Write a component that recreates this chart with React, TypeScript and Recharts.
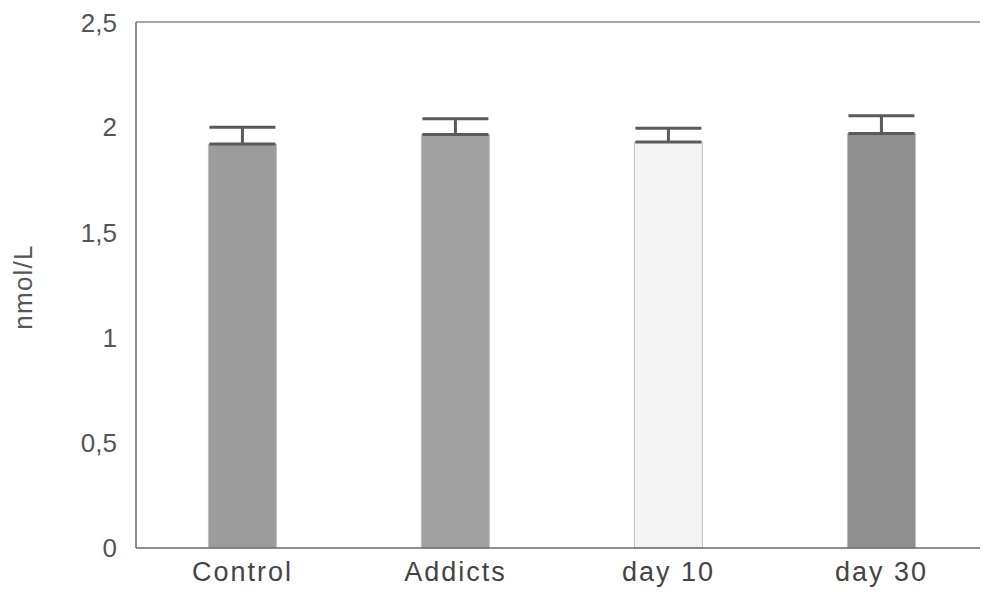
import { Bar, BarChart, Cell, ErrorBar, ReferenceLine, XAxis, YAxis } from "recharts";

const groups = ["Control", "Addicts", "day 10", "day 30"];
const means = [1.92, 1.965, 1.93, 1.97];
const sd = [0.08, 0.075, 0.065, 0.085];
const fills = ["#9c9c9c", "#a2a2a2", "#f3f3f3", "#8e8e8e"];
const yTicks = [0, 0.5, 1, 1.5, 2, 2.5];

const data = groups.map((g, i) => ({ name: g, value: means[i], err: [0, sd[i]] }));

const fmt = (v: number) => String(v).replace(".", ",");

function AxisTitle() {
  return (
    <text
      x={24}
      y={279}
      transform="rotate(-90 24 279)"
      textAnchor="middle"
      fill="#555"
      fontSize={26}
      letterSpacing={1.2}
    >
      nmol/L
    </text>
  );
}

export default function App() {
  return (
    <div style={{ width: 980, height: 587, fontFamily: "'Liberation Sans', Arial, sans-serif" }}>
      <BarChart
        width={980}
        height={587}
        data={data}
        margin={{ top: 14, right: 0, left: 0, bottom: 0 }}
        barCategoryGap="34%"
      >
        <XAxis
          dataKey="name"
          axisLine={{ stroke: "#6a6a6a", strokeWidth: 1.5 }}
          tickLine={false}
          height={47}
          tickMargin={8}
          tick={{ fill: "#444", fontSize: 27, letterSpacing: 2 }}
        />
        <YAxis
          domain={[0, 2.5]}
          ticks={yTicks}
          width={128}
          axisLine={{ stroke: "#6a6a6a", strokeWidth: 1.5 }}
          tickLine={false}
          tickMargin={13}
          tickFormatter={fmt}
          tick={{ fill: "#555", fontSize: 26 }}
          label={<AxisTitle />}
        />
        <ReferenceLine y={2.5} stroke="#8a8a8a" strokeWidth={1.5} />
        <Bar dataKey="value" isAnimationActive={false} stroke="#bdbdbd" strokeWidth={1}>
          {data.map((d, i) => (
            <Cell key={d.name} fill={fills[i]} />
          ))}
          <ErrorBar dataKey="err" width={33} stroke="#5a5a5a" strokeWidth={3} direction="y" />
        </Bar>
      </BarChart>
    </div>
  );
}
